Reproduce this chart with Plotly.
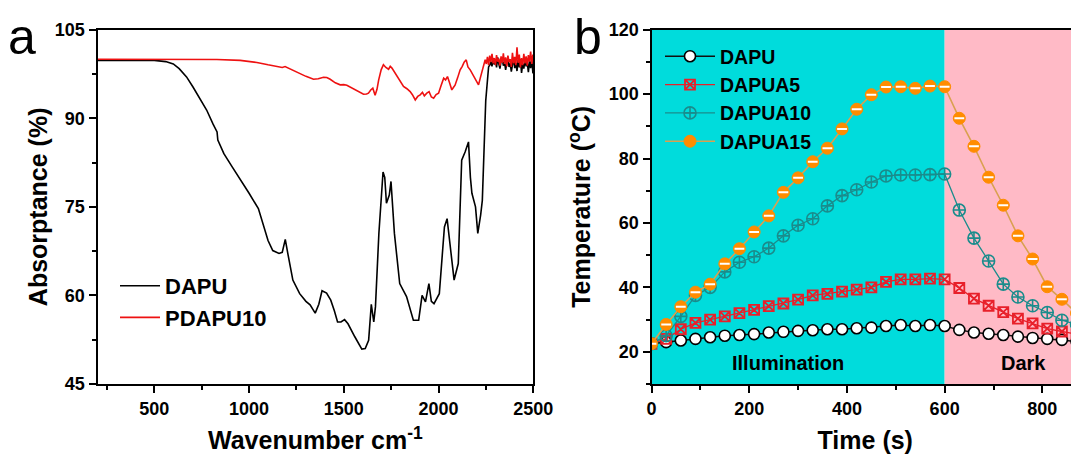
import plotly.graph_objects as go

# Page is 1079x456; the browser adds an 8px body margin, so the figure itself is smaller
OFF = 8
W, H = 1079 - OFF, 456 - OFF

# ---------------- Panel a data (wavenumber, absorptance %) ----------------
dapu_w = [200, 300, 400, 500, 560, 600, 631, 670, 704, 740, 776, 810, 831, 835, 867, 910,
          958, 1000, 1049, 1075, 1100, 1125, 1158, 1175, 1191, 1205, 1231, 1267, 1300, 1322,
          1349, 1368, 1385, 1409, 1431, 1450, 1467, 1485, 1504, 1522, 1540, 1558, 1595, 1613,
          1631, 1645, 1658, 1667, 1685, 1707, 1716, 1725, 1740, 1749, 1767, 1795, 1831, 1867,
          1895, 1913, 1931, 1949, 1962, 1976, 2004, 2031, 2045, 2067, 2082, 2104, 2122, 2140,
          2158, 2168, 2176, 2195, 2207, 2222, 2231, 2249, 2264,
          2270, 2276, 2282, 2288, 2294, 2300, 2306, 2312, 2318, 2324, 2330, 2336, 2342, 2348,
          2354, 2360, 2366, 2372, 2378, 2384, 2390, 2396, 2402, 2408, 2414, 2420, 2426, 2432,
          2438, 2444, 2450, 2456, 2462, 2468, 2474, 2480, 2486, 2492, 2498]
dapu_a = [99.8, 99.8, 99.8, 99.8, 99.6, 99.2, 98.4, 97.0, 95.3, 93.4, 91.4, 89.0, 87.7, 86.3, 84.0, 81.8,
          79.5, 77.3, 74.7, 72.0, 69.3, 67.6, 67.1, 67.3, 69.5, 67.0, 62.6, 60.3, 59.0, 58.4,
          57.0, 58.5, 60.8, 60.4, 59.2, 57.4, 55.5, 55.5, 55.9, 55.2, 54.0, 53.0, 50.9, 51.0,
          52.4, 58.5, 55.5, 58.1, 70.5, 80.9, 80.0, 75.6, 77.0, 79.3, 70.5, 62.0, 59.8, 55.8,
          55.8, 60.0, 58.9, 62.0, 59.0, 58.6, 60.3, 71.6, 73.0, 66.5, 62.6, 65.4, 82.9, 84.3,
          86.0, 80.0, 77.3, 75.0, 70.5, 73.6, 76.1, 93.0, 98.7,
          99.0, 99.6, 98.8, 100.2, 99.1, 99.9, 98.6, 100.3, 99.2, 98.4, 99.7, 100.1, 98.9, 99.5,
          98.2, 99.8, 100.4, 98.7, 99.3, 97.9, 99.6, 100.2, 98.5, 99.4, 98.0, 99.9, 98.6, 100.0,
          97.7, 99.2, 98.4, 100.1, 98.8, 99.5, 97.8, 99.7, 98.5, 100.0, 97.6]

pdapu_w = [200, 320, 500, 700, 830, 953, 1041, 1100, 1147, 1175, 1190, 1200, 1225, 1252, 1300,
           1340, 1365, 1393, 1410, 1428, 1455, 1481, 1500, 1516, 1545, 1569, 1590, 1604, 1620,
           1630, 1642, 1653, 1665, 1675, 1684, 1697, 1709, 1722, 1736, 1745, 1754, 1767, 1780,
           1797, 1815, 1833, 1850, 1862, 1877, 1890, 1903, 1915, 1925, 1938, 1950, 1962, 1974,
           1987, 2000, 2013, 2027, 2037, 2047, 2058, 2070, 2080, 2087, 2100, 2114, 2125, 2135,
           2146, 2155, 2167, 2180, 2193, 2202, 2211, 2220, 2229, 2238, 2246,
           2252, 2258, 2264, 2270, 2276, 2282, 2288, 2294, 2300, 2306, 2312, 2318, 2324, 2330,
           2336, 2342, 2348, 2354, 2360, 2366, 2372, 2378, 2384, 2390, 2396, 2402, 2408, 2414,
           2420, 2426, 2432, 2438, 2444, 2450, 2456, 2462, 2468, 2474, 2480, 2486, 2492, 2498]
pdapu_a = [100.0, 100.0, 100.0, 100.0, 99.95, 99.8, 99.45, 99.05, 98.77, 98.6, 98.75, 98.6, 98.1, 97.75, 97.1,
           96.6, 96.7, 96.95, 96.9, 96.6, 96.0, 95.66, 95.7, 95.6, 95.1, 94.7, 94.3, 94.08, 94.1,
           94.25, 94.8, 95.1, 93.9, 94.9, 96.5, 98.2, 99.06, 98.6, 98.3, 98.8, 98.5, 97.8, 97.07,
           96.3, 95.4, 95.0, 94.52, 94.0, 93.1, 93.7, 93.96, 94.4, 93.8, 94.25, 94.5, 93.6, 93.4,
           94.0, 94.25, 95.5, 96.8, 96.5, 97.07, 96.0, 94.8, 95.3, 95.6, 96.8, 98.2, 98.8, 99.5,
           99.9, 98.7, 98.2, 97.4, 96.8, 96.1, 95.66, 96.8, 97.9, 98.9, 99.9,
           99.2, 100.4, 99.0, 100.6, 99.5, 100.9, 99.3, 100.2, 99.0, 100.7, 99.6, 100.1, 98.9, 100.5,
           99.4, 101.0, 99.2, 100.3, 98.8, 100.6, 99.5, 100.0, 98.7, 101.1, 99.3, 100.4, 99.0, 102.0,
           99.4, 100.8, 98.6, 100.2, 99.0, 100.9, 99.3, 100.5, 98.9, 100.7, 99.6, 101.3, 99.2, 100.8]

# ---------------- Panel b data (time s, temperature °C) ----------------
time_s = [0, 30, 60, 90, 120, 150, 180, 210, 240, 270, 300, 330, 360, 390, 420,
          450, 480, 510, 540, 570, 600, 630, 660, 690, 720, 750, 780, 810, 840, 870]
t_dapu = [22.5, 23.0, 23.5, 24.0, 24.5, 25.0, 25.2, 25.5, 26.0, 26.2, 26.5, 26.7, 27.0, 27.0, 27.3,
          27.5, 28.0, 28.3, 28.0, 28.3, 28.0, 26.8, 26.0, 25.6, 25.2, 24.7, 24.3, 24.0, 23.7, 23.2]
t_a5 = [22.5, 24.0, 27.0, 29.0, 30.0, 31.0, 32.0, 33.0, 34.2, 35.0, 36.2, 37.5, 38.0, 38.7, 39.3,
        40.0, 41.7, 42.5, 42.5, 42.7, 42.5, 39.8, 36.5, 34.3, 32.3, 30.3, 28.8, 27.2, 26.3, 25.5]
t_a10 = [22.5, 25.0, 31.0, 37.5, 40.0, 44.8, 47.8, 49.5, 52.2, 56.0, 59.3, 61.3, 65.3, 68.5, 70.3,
         72.7, 74.6, 74.9, 74.9, 75.0, 75.2, 64.0, 55.3, 48.2, 41.0, 37.0, 34.3, 32.2, 29.8, 28.5]
t_a15 = [22.5, 28.5, 34.0, 38.5, 41.0, 47.3, 52.0, 57.2, 62.2, 69.5, 74.0, 79.0, 83.2, 89.2, 95.3,
         99.8, 102.2, 102.3, 101.8, 102.5, 102.3, 92.5, 83.8, 74.2, 65.5, 56.0, 48.8, 40.2, 36.3, 32.0]

FONT = "Liberation Sans"
BLACK = "black"


def fx(p):
    """screen pixel x -> paper fraction"""
    return (p - OFF) / W


def fy(p):
    """screen pixel y -> paper fraction"""
    return 1 - (p - OFF) / H


fig = go.Figure()

# Panel a
fig.add_trace(go.Scatter(x=dapu_w, y=dapu_a, mode="lines", name="DAPU",
                         line=dict(color="black", width=1.6), xaxis="x", yaxis="y", legend="legend"))
fig.add_trace(go.Scatter(x=pdapu_w, y=pdapu_a, mode="lines", name="PDAPU10",
                         line=dict(color="#EE1111", width=1.6), xaxis="x", yaxis="y", legend="legend"))

# Panel b
fig.add_trace(go.Scatter(x=time_s, y=t_dapu, mode="lines+markers", name="DAPU",
                         line=dict(color="#111111", width=1.5),
                         marker=dict(symbol="circle", size=11, color="white",
                                     line=dict(color="black", width=1.6)),
                         xaxis="x2", yaxis="y2", legend="legend2"))
fig.add_trace(go.Scatter(x=time_s, y=t_a5, mode="lines+markers", name="DAPUA5",
                         line=dict(color="#E8202A", width=1.3),
                         marker=dict(symbol="square-x-open", size=10, color="#E8202A",
                                     line=dict(color="#E8202A", width=1.8)),
                         xaxis="x2", yaxis="y2", legend="legend2"))
fig.add_trace(go.Scatter(x=time_s, y=t_a10, mode="lines+markers", name="DAPUA10",
                         line=dict(color="#1A8C8C", width=1.3),
                         marker=dict(symbol="circle-cross-open", size=12, color="#1A8C8C",
                                     line=dict(color="#1A8C8C", width=1.6)),
                         xaxis="x2", yaxis="y2", legend="legend2"))
fig.add_trace(go.Scatter(x=time_s, y=t_a15, mode="lines+markers", name="DAPUA15",
                         line=dict(color="#D9A050", width=1.6),
                         marker=dict(symbol="circle", size=12, color="#FF8C00",
                                     line=dict(color="#FF8C00", width=1)),
                         xaxis="x2", yaxis="y2", legend="legend2"))
fig.add_trace(go.Scatter(x=time_s, y=t_a15, mode="markers", showlegend=False, hoverinfo="skip",
                         marker=dict(symbol="line-ew", size=7, color="white",
                                     line=dict(color="white", width=2)),
                         xaxis="x2", yaxis="y2"))

tickfont = dict(family=FONT, size=18, color=BLACK, weight="bold")
titlefont = dict(family=FONT, size=25, color=BLACK, weight="bold")

common = dict(showline=True, linewidth=2, linecolor=BLACK, ticks="outside", ticklen=7,
              tickwidth=2, tickcolor=BLACK, showgrid=False, zeroline=False,
              tickfont=tickfont, automargin=False)

ydom = [fy(384), fy(29.7)]

fig.update_layout(
    template="none",
    width=W, height=H,
    margin=dict(l=0, r=0, t=0, b=0, autoexpand=False),
    paper_bgcolor="white", plot_bgcolor="white",
    showlegend=True,
    xaxis=dict(domain=[fx(97.5), fx(533.3)], range=[200, 2500], anchor="y", mirror=True,
               tick0=0, dtick=500,
               minor=dict(ticks="outside", dtick=250, ticklen=4, tickwidth=2, tickcolor=BLACK),
               title=dict(text="Wavenumber cm<sup>-1</sup>", font=titlefont, standoff=14),
               **common),
    yaxis=dict(domain=ydom, range=[45, 105], anchor="x", mirror=True,
               tick0=45, dtick=15,
               minor=dict(ticks="outside", dtick=7.5, ticklen=4, tickwidth=2, tickcolor=BLACK),
               title=dict(text="Absorptance (%)", font=titlefont, standoff=0),
               **common),
    xaxis2=dict(domain=[fx(651.5), 1.0], range=[0, 875], anchor="y2", mirror=True,
                tick0=0, dtick=200,
                minor=dict(ticks="outside", dtick=100, ticklen=4, tickwidth=2, tickcolor=BLACK),
                title=dict(text="Time (s)", font=titlefont, standoff=14),
                **common),
    yaxis2=dict(domain=ydom, range=[10, 120], anchor="x2", mirror=False,
                tick0=0, dtick=20,
                minor=dict(ticks="outside", dtick=10, ticklen=4, tickwidth=2, tickcolor=BLACK),
                title=dict(text="Temperature (<sup>o</sup>C)", font=titlefont, standoff=11),
                **common),
    legend=dict(x=fx(115), y=fy(265), xanchor="left", yanchor="top",
                bgcolor="rgba(0,0,0,0)", itemwidth=40, tracegroupgap=0,
                font=dict(family=FONT, size=22, color=BLACK, weight="bold")),
    legend2=dict(x=fx(660), y=fy(37), xanchor="left", yanchor="top",
                 bgcolor="rgba(0,0,0,0)", itemwidth=50, tracegroupgap=0,
                 font=dict(family=FONT, size=19.5, color=BLACK, weight="bold")),
    shapes=[
        dict(type="rect", xref="x2", yref="y2", x0=0, x1=600, y0=10, y1=120,
             fillcolor="#00DCDC", line=dict(width=0), layer="below"),
        dict(type="rect", xref="x2", yref="y2", x0=600, x1=875, y0=10, y1=120,
             fillcolor="#FFBAC6", line=dict(width=0), layer="below"),
    ],
    annotations=[
        dict(text="Illumination", x=280, y=16.4, xref="x2", yref="y2", showarrow=False,
             font=dict(family=FONT, size=20, color=BLACK, weight="bold")),
        dict(text="Dark", x=762, y=16.4, xref="x2", yref="y2", showarrow=False,
             font=dict(family=FONT, size=20, color=BLACK, weight="bold")),
        dict(text="a", x=fx(22), y=1.0, xref="paper", yref="paper", showarrow=False,
             xanchor="center", yanchor="top", borderpad=0,
             font=dict(family=FONT, size=50, color=BLACK)),
        dict(text="b", x=fx(588), y=1.0, xref="paper", yref="paper", showarrow=False,
             xanchor="center", yanchor="top", borderpad=0,
             font=dict(family=FONT, size=50, color=BLACK)),
    ],
)

fig.write_html("out.html")
